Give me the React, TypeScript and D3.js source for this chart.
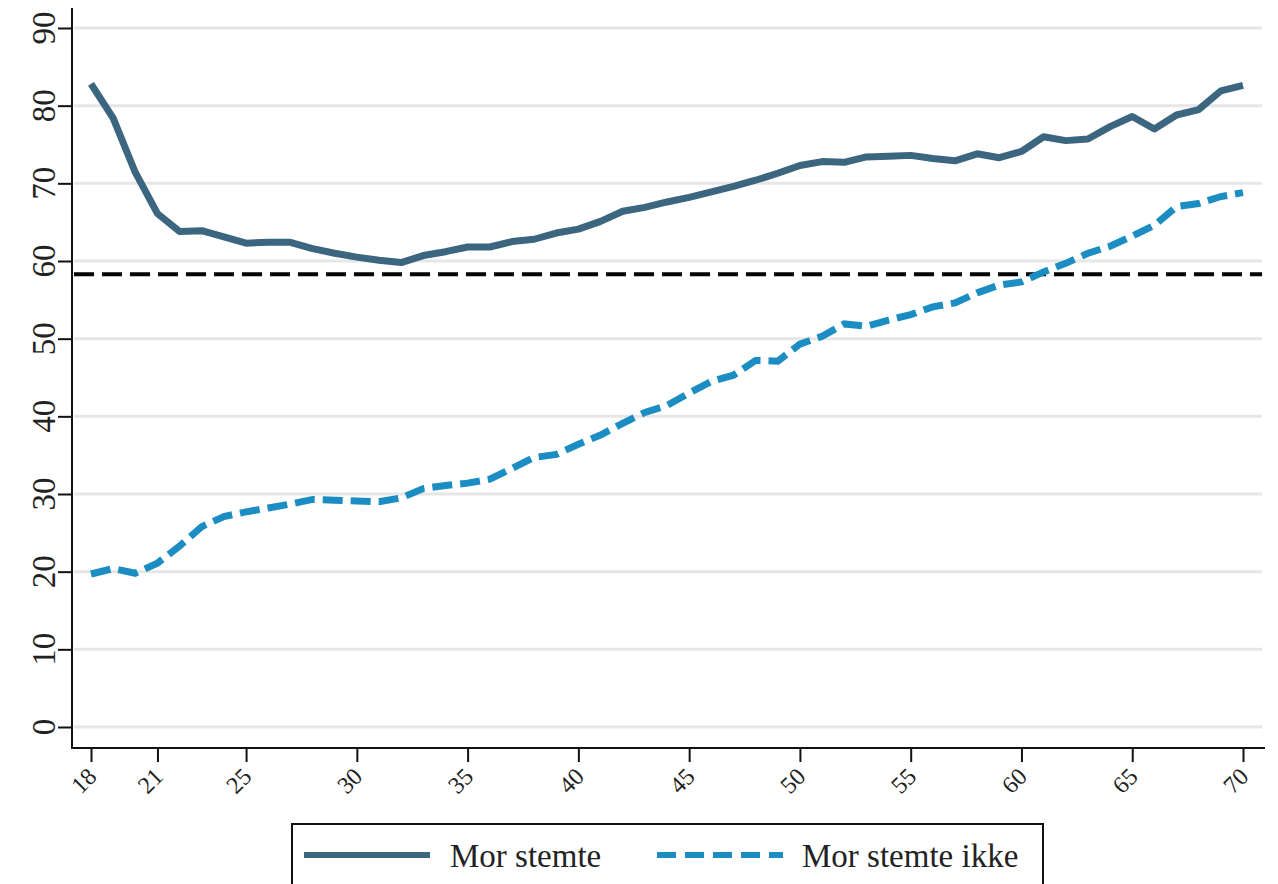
import * as React from 'react';
import * as d3 from 'd3';

const ages = d3.range(18, 71);
const morStemte = [
    82.8, 78.4, 71.4, 66.1, 63.8, 63.9, 63.1, 62.3, 62.4, 62.4,
    61.6, 61.0, 60.5, 60.1, 59.8, 60.7, 61.2, 61.8, 61.8, 62.5,
    62.8, 63.6, 64.1, 65.1, 66.4, 66.9, 67.6, 68.2, 68.9, 69.6,
    70.4, 71.3, 72.3, 72.8, 72.7, 73.4, 73.5, 73.6, 73.2, 72.9,
    73.8, 73.3, 74.1, 76.0, 75.5, 75.7, 77.3, 78.6, 77.0, 78.8,
    79.5, 81.9, 82.6,
];
const morStemteIkke = [
    19.7, 20.4, 19.8, 21.1, 23.3, 25.8, 27.1, 27.7, 28.2, 28.7,
    29.3, 29.2, 29.1, 29.0, 29.5, 30.7, 31.1, 31.4, 31.9, 33.3,
    34.7, 35.1, 36.4, 37.6, 39.1, 40.5, 41.4, 43.0, 44.5, 45.3,
    47.2, 47.1, 49.3, 50.3, 51.9, 51.6, 52.4, 53.1, 54.1, 54.6,
    55.9, 56.9, 57.3, 58.6, 59.7, 61.0, 61.9, 63.2, 64.6, 67.0,
    67.4, 68.3, 68.8,
];
const referenceValue = 58.3;
const xTicks = [18, 21, 25, 30, 35, 40, 45, 50, 55, 60, 65, 70];
const yTicks = [0, 10, 20, 30, 40, 50, 60, 70, 80, 90];
const legendLabels = ['Mor stemte', 'Mor stemte ikke'];

const W = 1278;
const H = 884;
const font = '"Liberation Serif", "Times New Roman", serif';
const solidColor = '#3c6580';
const dashColor = '#1b8dc2';

const App: React.FunctionComponent = () => {
    const ref = React.useRef<SVGSVGElement>(null);

    React.useEffect(() => {
        if (!ref.current) {
            return;
        }
        const svg = d3.select(ref.current);
        svg.selectAll('*').remove();

        const axisX = 72;
        const axisY = 748;
        const x = d3.scaleLinear().domain([18, 70]).range([91, 1243]);
        const y = d3.scaleLinear().domain([0, 90]).range([727, 28]);

        // gridlines
        svg.append('g')
            .selectAll('line')
            .data(yTicks)
            .join('line')
            .attr('x1', axisX + 2)
            .attr('x2', 1262)
            .attr('y1', d => y(d))
            .attr('y2', d => y(d))
            .attr('stroke', '#e6e6e6')
            .attr('stroke-width', 3);

        // y axis
        const yAxis = svg.append('g').attr('transform', `translate(${axisX},0)`)
            .call(d3.axisLeft(y).tickValues(yTicks).tickSize(14).tickSizeOuter(0).tickFormat(() => ''));
        yAxis.select('.domain').remove();
        yAxis.selectAll('.tick text').remove();
        yAxis.selectAll('.tick line').attr('stroke', '#111').attr('stroke-width', 2);
        svg.append('g')
            .selectAll('text')
            .data(yTicks)
            .join('text')
            .attr('transform', d => `translate(${axisX - 17},${y(d)}) rotate(-90)`)
            .attr('text-anchor', 'middle')
            .attr('font-family', font)
            .attr('font-size', 33)
            .attr('fill', '#222')
            .text(d => String(d));
        svg.append('line')
            .attr('x1', axisX).attr('x2', axisX)
            .attr('y1', 8).attr('y2', axisY + 1)
            .attr('stroke', '#111').attr('stroke-width', 2);

        // x axis
        const xAxis = svg.append('g').attr('transform', `translate(0,${axisY})`)
            .call(d3.axisBottom(x).tickValues(xTicks).tickSize(14).tickSizeOuter(0).tickFormat(() => ''));
        xAxis.select('.domain').remove();
        xAxis.selectAll('.tick text').remove();
        xAxis.selectAll('.tick line').attr('stroke', '#111').attr('stroke-width', 2);
        svg.append('g')
            .selectAll('text')
            .data(xTicks)
            .join('text')
            .attr('transform', d => `translate(${x(d) + 7},${axisY + 30}) rotate(-45)`)
            .attr('text-anchor', 'end')
            .attr('font-family', font)
            .attr('font-size', 24)
            .attr('fill', '#222')
            .text(d => String(d));
        svg.append('line')
            .attr('x1', axisX - 1).attr('x2', 1265)
            .attr('y1', axisY).attr('y2', axisY)
            .attr('stroke', '#111').attr('stroke-width', 2);

        // reference line
        svg.append('line')
            .attr('x1', axisX + 2).attr('x2', 1262)
            .attr('y1', y(referenceValue)).attr('y2', y(referenceValue))
            .attr('stroke', '#000')
            .attr('stroke-width', 4)
            .attr('stroke-dasharray', '20 8');

        const line = d3.line<number>()
            .x((d, i) => x(ages[i]))
            .y(d => y(d));

        svg.append('path')
            .datum(morStemteIkke)
            .attr('d', line)
            .attr('fill', 'none')
            .attr('stroke', dashColor)
            .attr('stroke-width', 7)
            .attr('stroke-dasharray', '20 8');

        svg.append('path')
            .datum(morStemte)
            .attr('d', line)
            .attr('fill', 'none')
            .attr('stroke', solidColor)
            .attr('stroke-width', 7)
            .attr('stroke-linejoin', 'round');

        // legend
        const legend = svg.append('g');
        legend.append('rect')
            .attr('x', 292).attr('y', 824)
            .attr('width', 751).attr('height', 90)
            .attr('fill', '#fff')
            .attr('stroke', '#111').attr('stroke-width', 2);
        const items = [
            { label: legendLabels[0], color: solidColor, dash: null, x0: 304, tx: 450 },
            { label: legendLabels[1], color: dashColor, dash: '19 9', x0: 657, tx: 802 },
        ];
        items.forEach(it => {
            legend.append('line')
                .attr('x1', it.x0).attr('x2', it.x0 + 126)
                .attr('y1', 855).attr('y2', 855)
                .attr('stroke', it.color)
                .attr('stroke-width', 6)
                .attr('stroke-dasharray', it.dash);
            legend.append('text')
                .attr('x', it.tx).attr('y', 867)
                .attr('font-family', font)
                .attr('font-size', 33)
                .attr('fill', '#222')
                .text(it.label);
        });
    });

    return <svg ref={ref} width={W} height={H}
        style={{ position: 'absolute', left: 0, top: 0, background: '#fff' }} />;
};

export default App;
